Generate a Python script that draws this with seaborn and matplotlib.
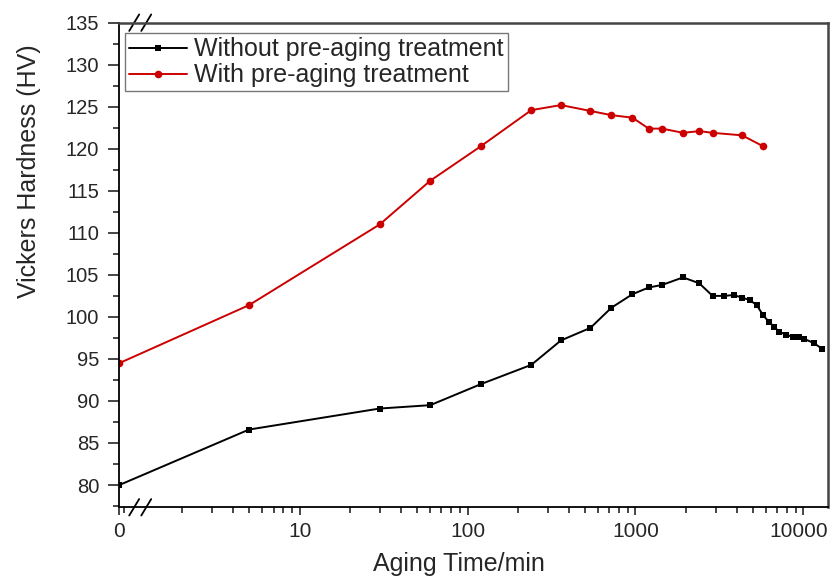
import numpy as np
import pandas as pd
import matplotlib
matplotlib.use("Agg")
import matplotlib.pyplot as plt
import matplotlib.transforms as mtransforms
import seaborn as sns
from matplotlib.ticker import FixedLocator, FixedFormatter, LogLocator, MultipleLocator, NullFormatter

# Aging time (min) and Vickers hardness (HV)
time_without = [0, 5, 30, 60, 120, 240, 360, 540, 720, 960, 1200, 1440, 1920, 2400,
                2880, 3360, 3840, 4320, 4800, 5280, 5760, 6240, 6720, 7200, 7920,
                8640, 9000, 9360, 10080, 11520, 12960]
hv_without = [80.0, 86.6, 89.1, 89.5, 92.0, 94.3, 97.2, 98.7, 101.1, 102.7, 103.5, 103.8,
              104.7, 104.0, 102.5, 102.5, 102.6, 102.3, 102.0, 101.4, 100.2, 99.4, 98.8,
              98.2, 97.9, 97.6, 97.6, 97.6, 97.4, 96.9, 96.2]

time_with = [0, 5, 30, 60, 120, 240, 360, 540, 720, 960, 1200, 1440, 1920, 2400, 2880,
             4320, 5760]
hv_with = [94.5, 101.4, 111.0, 116.2, 120.3, 124.6, 125.2, 124.5, 124.0, 123.7, 122.4,
           122.4, 121.9, 122.1, 121.9, 121.6, 120.3]

series_names = ["Without pre-aging treatment", "With pre-aging treatment"]
series_colors = ["#000000", "#cc0000"]
x_tick_labels = ["0", "10", "100", "1000", "10000"]

# the t = 0 point sits at the left edge of the broken log axis
X_ZERO = 0.844
X_MAX = 14080

sns.set_style("ticks")
plt.rcParams["font.family"] = ["Liberation Sans", "DejaVu Sans"]

df = pd.concat([
    pd.DataFrame({"time": time_without, "hv": hv_without, "series": series_names[0]}),
    pd.DataFrame({"time": time_with, "hv": hv_with, "series": series_names[1]}),
])
df["x"] = np.where(df["time"] == 0, X_ZERO, df["time"])

fig = plt.figure(figsize=(8.31, 5.81), dpi=100)
ax = fig.add_axes([119.3 / 831, 1 - 507.3 / 581, 709 / 831, 484.6 / 581])

sub = df[df["series"] == series_names[0]]
sns.lineplot(data=sub, x="x", y="hv", ax=ax, color=series_colors[0], marker="s",
             markersize=5, markeredgewidth=0, linewidth=1.4, label=series_names[0],
             sort=True)
sub = df[df["series"] == series_names[1]]
sns.lineplot(data=sub, x="x", y="hv", ax=ax, color=series_colors[1], marker="o",
             markersize=5.5, markeredgewidth=0, linewidth=1.4, label=series_names[1],
             sort=True)

ax.set_xscale("log")
ax.set_xlim(X_ZERO, X_MAX)
ax.set_ylim(77.35, 135)

ax.xaxis.set_major_locator(FixedLocator([X_ZERO, 10, 100, 1000, 10000]))
ax.xaxis.set_major_formatter(FixedFormatter(x_tick_labels))
ax.xaxis.set_minor_locator(LogLocator(base=10, subs=np.arange(2, 10)))
ax.xaxis.set_minor_formatter(NullFormatter())
ax.yaxis.set_major_locator(MultipleLocator(5))
ax.yaxis.set_minor_locator(MultipleLocator(2.5))

ax.tick_params(axis="x", which="major", direction="out", length=6, width=1.2,
               labelsize=15, pad=4.5, top=False)
ax.tick_params(axis="x", which="minor", direction="out", length=4, width=1.2, top=False)
ax.tick_params(axis="y", which="major", direction="out", length=8, width=1.2,
               labelsize=14.5, pad=6.5, right=False)
ax.tick_params(axis="y", which="minor", direction="out", length=4.3, width=1.2, right=False)

for side in ("left", "bottom"):
    ax.spines[side].set_color("black")
    ax.spines[side].set_linewidth(1.3)
for side in ("top", "right"):
    ax.spines[side].set_color("#444444")
    ax.spines[side].set_linewidth(1.8)

ax.set_xlabel("Aging Time/min", fontsize=18)
ax.set_ylabel("Vickers Hardness (HV)", fontsize=18)
ax.xaxis.set_label_coords(0.479, -0.093)
ax.yaxis.set_label_coords(-0.110, 0.694)

# keep the rightmost tick label inside the figure edge
fig.canvas.draw()
last_label = ax.xaxis.get_major_ticks()[-1].label1
last_label.set_transform(last_label.get_transform()
                         + mtransforms.ScaledTranslation(-5 / 100, 0, fig.dpi_scale_trans))

# axis-break marks on the bottom and top spines
for y0 in (0.0, 1.0):
    for xc in (0.021, 0.038):
        ax.plot([xc - 0.007, xc + 0.007], [y0 - 0.017, y0 + 0.017], transform=ax.transAxes,
                color="black", linewidth=1.3, clip_on=False)

leg = ax.legend(loc="upper left", bbox_to_anchor=(6 / 709, 1 - 10.6 / 484.6),
                borderaxespad=0, fontsize=18, frameon=True, fancybox=False,
                framealpha=1, edgecolor="#777777", handlelength=2.3, handletextpad=0.3,
                labelspacing=0.08, borderpad=0.16, numpoints=1)
leg.get_frame().set_linewidth(1.0)

fig.savefig("out.png", dpi=100)
